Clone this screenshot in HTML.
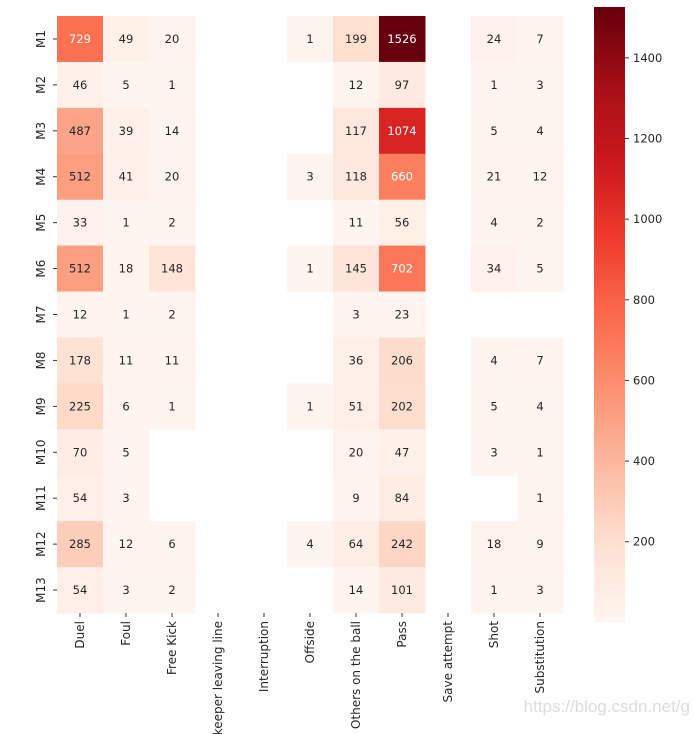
<!DOCTYPE html>
<html><head><meta charset="utf-8"><style>
html,body{margin:0;padding:0;background:#fff;}
svg{display:block;font-family:"DejaVu Sans","Liberation Sans",sans-serif;}
</style></head><body>
<svg id="chart" width="694" height="734" viewBox="0 0 694 734" xmlns="http://www.w3.org/2000/svg">
<defs><linearGradient id="cbgrad" x1="0" y1="1" x2="0" y2="0">
<stop offset="0" stop-color="#fff5f0"/><stop offset="0.125" stop-color="#fee0d2"/><stop offset="0.25" stop-color="#fcbba1"/><stop offset="0.375" stop-color="#fc9272"/><stop offset="0.5" stop-color="#fb6a4a"/><stop offset="0.625" stop-color="#ef3b2c"/><stop offset="0.75" stop-color="#cb181d"/><stop offset="0.875" stop-color="#a50f15"/><stop offset="1" stop-color="#67000d"/>
</linearGradient></defs>
<g id="cells"></g>
<g id="yaxis"></g>
<g id="xaxis"></g>
<rect x="594" y="7" width="31" height="615" fill="url(#cbgrad)"/>
<g id="cbticks"></g>
<text x="690" y="712" font-family="Liberation Sans, sans-serif" font-size="17" fill="#dcdcdc" text-anchor="end">https://blog.csdn.net/g</text>
</svg>
<script>
const categories = ["Duel","Foul","Free Kick","Goalkeeper leaving line","Interruption","Offside","Others on the ball","Pass","Save attempt","Shot","Substitution"];
const rowsLabels = ["M1","M2","M3","M4","M5","M6","M7","M8","M9","M10","M11","M12","M13"];
const values = [
[729,49,20,null,null,1,199,1526,null,24,7],
[46,5,1,null,null,null,12,97,null,1,3],
[487,39,14,null,null,null,117,1074,null,5,4],
[512,41,20,null,null,3,118,660,null,21,12],
[33,1,2,null,null,null,11,56,null,4,2],
[512,18,148,null,null,1,145,702,null,34,5],
[12,1,2,null,null,null,3,23,null,null,null],
[178,11,11,null,null,null,36,206,null,4,7],
[225,6,1,null,null,1,51,202,null,5,4],
[70,5,null,null,null,null,20,47,null,3,1],
[54,3,null,null,null,null,9,84,null,null,1],
[285,12,6,null,null,4,64,242,null,18,9],
[54,3,2,null,null,null,14,101,null,1,3]
];
const cbTicks = [200,400,600,800,1000,1200,1400];
const vmin = 1, vmax = 1526;
const NS = "http://www.w3.org/2000/svg";
const X0=57, X1=563, Y0=16, Y1=613, CB0=7, CB1=622;
const cw=(X1-X0)/categories.length, ch=(Y1-Y0)/rowsLabels.length;
const xPos=i=>X0+i*cw, yPos=j=>Y0+j*ch;
const cbY=v=>CB1-(v-vmin)/(vmax-vmin)*(CB1-CB0);
const stops=["#fff5f0","#fee0d2","#fcbba1","#fc9272","#fb6a4a","#ef3b2c","#cb181d","#a50f15","#67000d"].map(h=>[1,3,5].map(k=>parseInt(h.substr(k,2),16)));
function color(v){let t=(v-vmin)/(vmax-vmin);t=Math.max(0,Math.min(1,t))*(stops.length-1);const i=Math.min(Math.floor(t),stops.length-2),f=t-i;
const c=stops[i].map((a,k)=>Math.round(a+(stops[i+1][k]-a)*f));return `rgb(${c.join(",")})`;}
function el(tag,attrs,parent){const e=document.createElementNS(NS,tag);for(const k in attrs)e.setAttribute(k,attrs[k]);parent.appendChild(e);return e;}
const cells=document.getElementById("cells");
values.forEach((row,j)=>row.forEach((v,i)=>{
 if(v===null)return;
 const r=el("rect",{x:xPos(i),y:yPos(j),width:cw+0.5,height:ch+0.5,fill:color(v)},cells);
 
 
 const t=el("text",{x:xPos(i)+cw/2,y:yPos(j)+ch/2+4,"text-anchor":"middle","font-size":"11.5",fill:(v-vmin)/(vmax-vmin)>0.38?"#fff":"#262626"},cells);
 
 
 t.textContent=v;
}));
const ya=document.getElementById("yaxis");
rowsLabels.forEach((l,j)=>{
 const y=yPos(j)+ch/2;
 const tk=el("line",{x1:X0-4,x2:X0,y1:y,y2:y,stroke:"#333","stroke-width":1},ya);
 
 
 const t=el("text",{transform:`translate(${X0-12},${y}) rotate(-90)`,"text-anchor":"middle","font-size":"12",fill:"#262626"},ya);
 
 
 t.textContent=l;
});
const xa=document.getElementById("xaxis");
categories.forEach((l,i)=>{
 const x=xPos(i)+cw/2;
 const tk=el("line",{x1:x,x2:x,y1:Y1,y2:Y1+4,stroke:"#333","stroke-width":1},xa);
 
 
 const t=el("text",{transform:`translate(${x+4},${Y1+8}) rotate(-90)`,"text-anchor":"end","font-size":"12",fill:"#262626"},xa);
 
 
 t.textContent=l;
});
const cb=document.getElementById("cbticks");
cbTicks.forEach(v=>{
 const y=cbY(v);
 const tk=el("line",{x1:625,x2:629,y1:y,y2:y,stroke:"#333","stroke-width":1},cb);
 
 
 const t=el("text",{x:633,y:y+4,"font-size":"11.5",fill:"#262626"},cb);
 
 
 t.textContent=v;
});
</script>
</body></html>
